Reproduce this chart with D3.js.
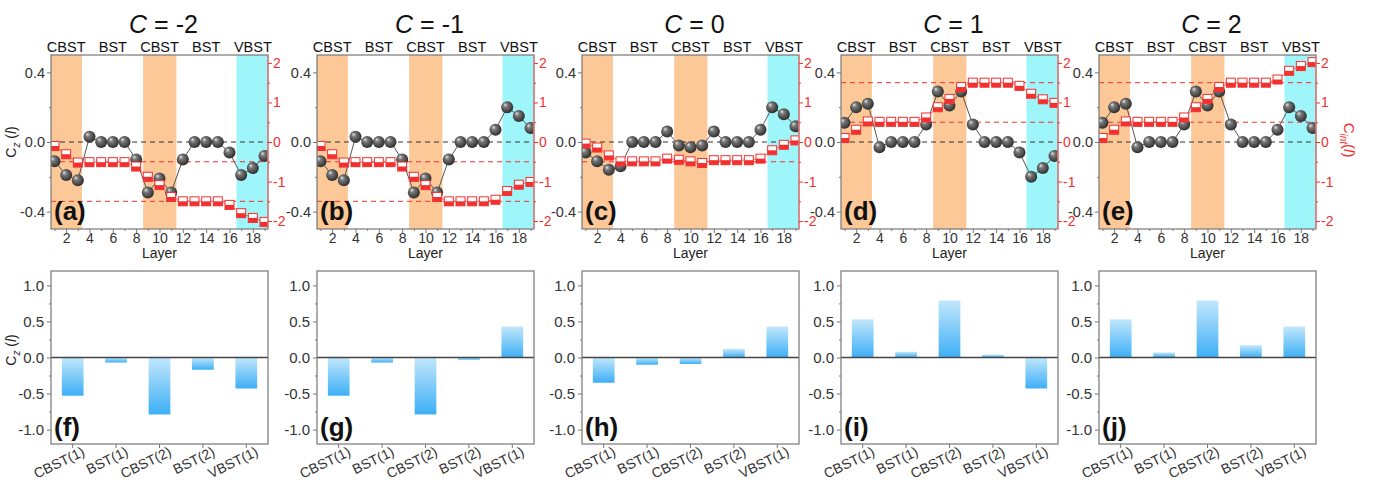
<!DOCTYPE html>
<html>
<head>
<meta charset="utf-8">
<script src="https://cdn.jsdelivr.net/npm/d3@7"></script>
<style>
body{margin:0;background:#fff;}
svg{font-family:"Liberation Sans",Arial,sans-serif;}
</style>
</head>
<body>
<svg id="fig" width="1376" height="483"></svg>
<script>
// ---------- data ----------
const layers = [1,2,3,4,5,6,7,8,9,10,11,12,13,14,15,16,17,18,19];
const layerTicks = [2,4,6,8,10,12,14,16,18];
const layerMinor = [1,3,5,7,9,11,13,15,17,19];
const charges = ["-2","-1","0","1","2"];
const topTags = ["(a)","(b)","(c)","(d)","(e)"];
const botTags = ["(f)","(g)","(h)","(i)","(j)"];
const regionNames = ["CBST","BST","CBST","BST","VBST"];
const regionCenters = [2,6,10,14,18];
const shadeFrom = [0.5,8.6,16.6];
const shadeTo = [3.35,11.45,19.5];
const shadeColor = ["#fdc897","#fdc897","#9ff6fa"];

// C_z(l), left axis
const czM2 = [-0.11,-0.19,-0.22,0.03,0,0,0,-0.10,-0.29,-0.21,-0.29,-0.10,0,0,0,-0.06,-0.19,-0.15,-0.08];
const czM1 = [-0.11,-0.19,-0.22,0.03,0,0,0,-0.10,-0.29,-0.21,-0.29,-0.10,0,0,0,0.07,0.20,0.15,0.08];
const cz0  = [-0.06,-0.11,-0.16,-0.14,0,0,0,0.06,-0.02,-0.03,-0.02,0.06,0,0,0,0.07,0.20,0.16,0.09];
const czP1 = [0.11,0.20,0.22,-0.03,0,0,0,0.10,0.29,0.21,0.29,0.10,0,0,0,-0.06,-0.20,-0.15,-0.08];
const czP2 = [0.11,0.20,0.22,-0.03,0,0,0,0.10,0.29,0.21,0.29,0.10,0,0,0,0.07,0.20,0.15,0.08];

// C_int(l), right axis
const cintM2 = [-0.10,-0.31,-0.52,-0.51,-0.51,-0.51,-0.51,-0.62,-0.88,-1.09,-1.39,-1.50,-1.50,-1.50,-1.50,-1.59,-1.80,-1.92,-2.02];
const cintM1 = [-0.10,-0.31,-0.52,-0.51,-0.51,-0.51,-0.51,-0.62,-0.88,-1.09,-1.39,-1.50,-1.50,-1.50,-1.50,-1.46,-1.24,-1.08,-1.01];
const cint0  = [-0.04,-0.14,-0.34,-0.49,-0.49,-0.49,-0.49,-0.42,-0.45,-0.49,-0.53,-0.46,-0.46,-0.46,-0.46,-0.42,-0.21,-0.07,0.04];
const cintP1 = [0.10,0.31,0.52,0.51,0.51,0.51,0.51,0.62,0.88,1.09,1.39,1.50,1.50,1.50,1.50,1.42,1.22,1.08,0.99];
const cintP2 = [0.10,0.31,0.52,0.51,0.51,0.51,0.51,0.62,0.88,1.09,1.39,1.50,1.50,1.50,1.50,1.58,1.80,1.92,2.02];

// red dashed reference levels (right axis)
const dashM2 = [-0.5,-1.5];
const dashM1 = [-0.5,-1.5];
const dash0  = [-0.5];
const dashP1 = [0.5,1.5];
const dashP2 = [0.5,1.5];

// bottom bar panels
const barCats = ["CBST(1)","BST(1)","CBST(2)","BST(2)","VBST(1)"];
const barsM2 = [-0.53,-0.07,-0.79,-0.17,-0.43];
const barsM1 = [-0.53,-0.07,-0.79,-0.03,0.43];
const bars0  = [-0.35,-0.10,-0.09,0.12,0.43];
const barsP1 = [0.53,0.08,0.79,0.04,-0.43];
const barsP2 = [0.53,0.07,0.79,0.17,0.43];

const leftTicks = [-0.4,0,0.4];
const leftMinor = [-0.2,0.2];
const rightTicks = [-2,-1,0,1,2];
const rightMinor = [-1.5,-0.5,0.5,1.5];
const barTicks = [-1,-0.5,0,0.5,1];
const barMinor = [-0.75,-0.25,0.25,0.75];

const czSets = [czM2,czM1,cz0,czP1,czP2];
const cintSets = [cintM2,cintM1,cint0,cintP1,cintP2];
const dashSets = [dashM2,dashM1,dash0,dashP1,dashP2];
const barSets = [barsM2,barsM1,bars0,barsP1,barsP2];

// ---------- layout ----------
const panelX = [51,317,582,841,1099];
const panelW = 217;
const topY = [55,229];
const botY = [271,444];
const gray = '#777', red = '#f2302f', txt = '#333';

const svg = d3.select('#fig');
const defs = svg.append('defs');

const ball = defs.append('radialGradient').attr('id','ball')
  .attr('cx','45%').attr('cy','45%').attr('r','60%').attr('fx','32%').attr('fy','28%');
ball.append('stop').attr('offset','0%').attr('stop-color','#e6e6e6');
ball.append('stop').attr('offset','30%').attr('stop-color','#7a7a7a');
ball.append('stop').attr('offset','100%').attr('stop-color','#262626');

const barGrad = defs.append('linearGradient').attr('id','barGrad')
  .attr('x1',0).attr('y1',0).attr('x2',0).attr('y2',1);
barGrad.append('stop').attr('offset','0%').attr('stop-color','#c2e7fb');
barGrad.append('stop').attr('offset','100%').attr('stop-color','#3daff6');

function cleanAxis(sel, color){
  sel.select('.domain').remove();
  sel.selectAll('.tick line').attr('stroke', color);
  sel.selectAll('.tick text').attr('fill', color === gray ? txt : color);
}
const fmt1 = d => d.toFixed(1);

charges.forEach((c, i) => {
  const g = svg.append('g').attr('transform', `translate(${panelX[i]},0)`);
  const x = d3.scaleLinear().domain([0.7,19.3]).range([0,panelW]);
  const yL = d3.scaleLinear().domain([-0.5,0.5]).range([topY[1],topY[0]]);
  const yR = d3.scaleLinear().domain([-2.2,2.2]).range([topY[1],topY[0]]);

  defs.append('clipPath').attr('id','clip'+i).append('rect')
    .attr('x',0).attr('y',topY[0]).attr('width',panelW).attr('height',topY[1]-topY[0]);
  const plot = g.append('g').attr('clip-path',`url(#clip${i})`);

  // shaded regions
  plot.selectAll('.shade').data(shadeFrom).join('rect').attr('class','shade')
    .attr('x', d => x(d)).attr('width', (d,k) => x(shadeTo[k]) - x(d))
    .attr('y', topY[0]).attr('height', topY[1]-topY[0])
    .attr('fill', (d,k) => shadeColor[k]);

  // reference dashes
  plot.append('line').attr('x1',0).attr('x2',panelW).attr('y1',yL(0)).attr('y2',yL(0))
    .attr('stroke','#333').attr('stroke-dasharray','5,4');
  plot.selectAll('.rdash').data(dashSets[i]).join('line').attr('class','rdash')
    .attr('x1',0).attr('x2',panelW).attr('y1',d=>yR(d)).attr('y2',d=>yR(d))
    .attr('stroke',red).attr('stroke-dasharray','5,4');

  // C_z line + spheres
  const cz = czSets[i];
  plot.append('path').datum(layers)
    .attr('d', d3.line().x(l => x(l)).y((l,k) => yL(cz[k])))
    .attr('fill','none').attr('stroke','#555').attr('stroke-width',1);
  plot.selectAll('.ball').data(layers).join('circle').attr('class','ball')
    .attr('cx', l => x(l)).attr('cy', (l,k) => yL(cz[k])).attr('r', 6)
    .attr('fill','url(#ball)');

  // C_int line + half filled squares
  const ci = cintSets[i];
  plot.append('path').datum(layers)
    .attr('d', d3.line().x(l => x(l)).y((l,k) => yR(ci[k])))
    .attr('fill','none').attr('stroke','#f66').attr('stroke-width',1);
  const sq = plot.selectAll('.sq').data(layers).join('g').attr('class','sq')
    .attr('transform', (l,k) => `translate(${x(l)},${yR(ci[k])})`);
  sq.append('rect').attr('x',-4.5).attr('y',-4.5).attr('width',9).attr('height',9)
    .attr('fill','#fff').attr('stroke',red).attr('stroke-width',1);
  sq.append('rect').attr('x',-4.5).attr('y',0).attr('width',9).attr('height',4.5)
    .attr('fill',red);

  // frame
  g.append('rect').attr('x',0).attr('y',topY[0]).attr('width',panelW).attr('height',topY[1]-topY[0])
    .attr('fill','none').attr('stroke',gray).attr('stroke-width',1.2);
  g.append('line').attr('x1',panelW).attr('x2',panelW).attr('y1',topY[0]).attr('y2',topY[1])
    .attr('stroke','#f77').attr('stroke-width',1.2);

  // axes
  g.append('g').attr('transform',`translate(0,${topY[1]})`)
    .call(d3.axisBottom(x).tickValues(layerTicks).tickSize(4).tickPadding(0).tickFormat(d3.format('d')))
    .call(s => cleanAxis(s, gray)).style('font-size','14px');
  g.append('g').attr('transform',`translate(0,${topY[1]})`)
    .call(d3.axisBottom(x).tickValues(layerMinor).tickSize(2).tickFormat(''))
    .call(s => cleanAxis(s, gray));
  g.append('g')
    .call(d3.axisLeft(yL).tickValues(leftTicks).tickSize(4).tickPadding(2).tickFormat(fmt1))
    .call(s => cleanAxis(s, gray)).style('font-size','14.5px');
  g.append('g')
    .call(d3.axisLeft(yL).tickValues(leftMinor).tickSize(2).tickFormat(''))
    .call(s => cleanAxis(s, gray));
  g.append('g').attr('transform',`translate(${panelW},0)`)
    .call(d3.axisRight(yR).tickValues(rightTicks).tickSize(4).tickPadding(1).tickFormat(d => String(d)))
    .call(s => cleanAxis(s, red)).style('font-size','14px');
  g.append('g').attr('transform',`translate(${panelW},0)`)
    .call(d3.axisRight(yR).tickValues(rightMinor).tickSize(2).tickFormat(''))
    .call(s => cleanAxis(s, red));

  g.append('text').attr('x',panelW/2).attr('y',258).attr('text-anchor','middle')
    .style('font-size','14px').attr('fill','#222').text('Layer');

  // region names above
  g.selectAll('.reg').data(regionNames).join('text').attr('class','reg')
    .attr('x',(d,k) => x(regionCenters[k])).attr('y',52).attr('text-anchor','middle')
    .style('font-size','14.5px').attr('fill','#111').text(d => d);

  // title
  const t = g.append('text').attr('x',panelW/2 + 4).attr('y',33).attr('text-anchor','middle')
    .style('font-size','25px').attr('fill','#111');
  t.append('tspan').style('font-style','italic').text('C');
  t.append('tspan').text(' = ' + c);

  g.append('text').attr('x',3).attr('y',topY[1]-9).style('font-size','26px')
    .style('font-weight','bold').attr('fill','#111').text(topTags[i]);

  // ---------- bottom bar panel ----------
  const gb = svg.append('g').attr('transform', `translate(${panelX[i]},0)`);
  const xb = d3.scaleBand().domain(barCats).range([0,panelW]).paddingInner(0.5).paddingOuter(0.25);
  const yb = d3.scaleLinear().domain([-1.2,1.2]).range([botY[1],botY[0]]);
  const vals = barSets[i];

  gb.selectAll('.bar').data(barCats).join('rect').attr('class','bar')
    .attr('x', d => xb(d)).attr('width', xb.bandwidth())
    .attr('y', (d,k) => yb(Math.max(0, vals[k])))
    .attr('height', (d,k) => Math.abs(yb(vals[k]) - yb(0)))
    .attr('fill','url(#barGrad)');
  gb.append('line').attr('x1',0).attr('x2',panelW).attr('y1',yb(0)).attr('y2',yb(0))
    .attr('stroke','#444').attr('stroke-width',1.5);
  gb.append('rect').attr('x',0).attr('y',botY[0]).attr('width',panelW).attr('height',botY[1]-botY[0])
    .attr('fill','none').attr('stroke',gray).attr('stroke-width',1.2);

  gb.append('g')
    .call(d3.axisLeft(yb).tickValues(barTicks).tickSize(4).tickPadding(3).tickFormat(fmt1))
    .call(s => cleanAxis(s, gray)).style('font-size','15px');
  gb.append('g')
    .call(d3.axisLeft(yb).tickValues(barMinor).tickSize(2).tickFormat(''))
    .call(s => cleanAxis(s, gray));
  const xa = gb.append('g').attr('transform',`translate(0,${botY[1]})`)
    .call(d3.axisBottom(xb).tickSize(4).tickPadding(2))
    .call(s => cleanAxis(s, gray)).style('font-size','14px');
  xa.selectAll('.tick text').attr('text-anchor','end').attr('dy',null).attr('y',null)
    .attr('transform','translate(13,11) rotate(-26)');

  gb.append('text').attr('x',3).attr('y',botY[1]-8).style('font-size','26px')
    .style('font-weight','bold').attr('fill','#111').text(botTags[i]);
});

// axis titles
function czLabel(cx, cy){
  const t = svg.append('text').attr('transform',`translate(${cx},${cy}) rotate(-90)`)
    .attr('text-anchor','middle').style('font-size','14px').attr('fill','#222');
  t.append('tspan').text('C');
  t.append('tspan').attr('dy',4).style('font-size','10px').style('font-style','italic').text('z');
  t.append('tspan').attr('dy',-4).text(' (');
  t.append('tspan').style('font-style','italic').text('l');
  t.append('tspan').text(')');
}
czLabel(16, 142);
czLabel(16, 350);

const ri = svg.append('text').attr('transform',`translate(1344,140) rotate(90)`)
  .attr('text-anchor','middle').style('font-size','15px').attr('fill',red);
ri.append('tspan').text('C');
ri.append('tspan').attr('dy',4).style('font-size','10px').style('font-style','italic').text('int');
ri.append('tspan').attr('dy',-4).text('(');
ri.append('tspan').style('font-style','italic').text('l');
ri.append('tspan').text(')');
</script>
</body>
</html>
